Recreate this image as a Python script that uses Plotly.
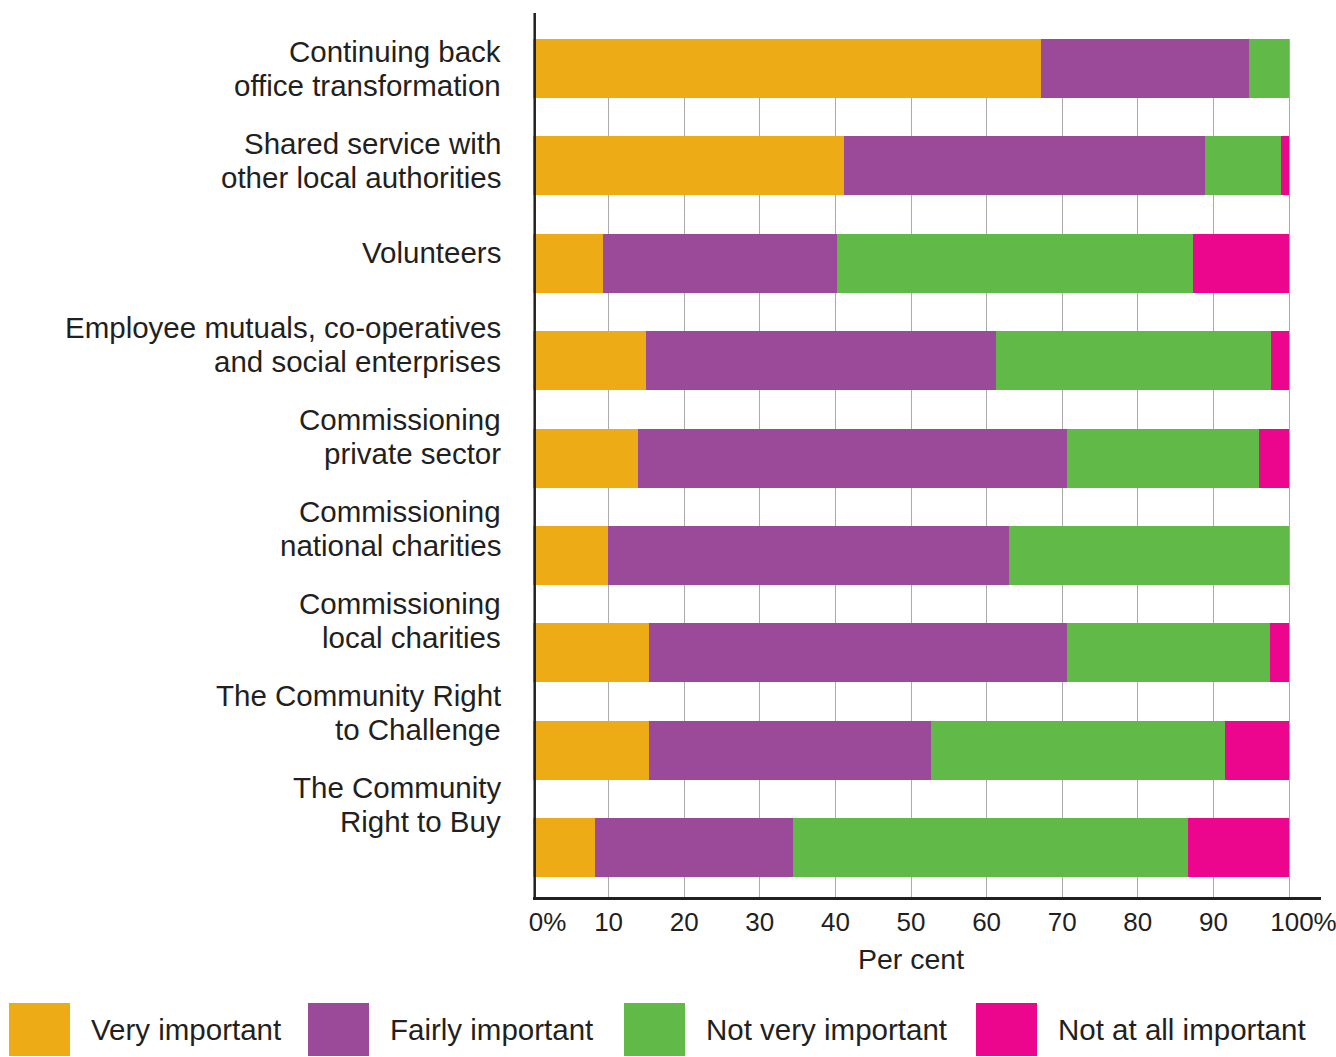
import plotly.graph_objects as go

# ---------------- data ----------------
categories = [
    "Continuing back office transformation",
    "Shared service with other local authorities",
    "Volunteers",
    "Employee mutuals, co-operatives and social enterprises",
    "Commissioning private sector",
    "Commissioning national charities",
    "Commissioning local charities",
    "The Community Right to Challenge",
    "The Community Right to Buy",
]
label_lines = [
    ["Continuing back", "office transformation"],
    ["Shared service with", "other local authorities"],
    ["Volunteers"],
    ["Employee mutuals, co-operatives", "and social enterprises"],
    ["Commissioning", "private sector"],
    ["Commissioning", "national charities"],
    ["Commissioning", "local charities"],
    ["The Community Right", "to Challenge"],
    ["The Community", "Right to Buy"],
]
series_names = ["Very important", "Fairly important", "Not very important", "Not at all important"]
very_important = [67.2, 41.1, 9.2, 14.9, 13.9, 9.9, 15.3, 15.3, 8.2]
fairly_important = [27.5, 47.8, 31.0, 46.4, 56.7, 53.0, 55.3, 37.3, 26.2]
not_very_important = [5.3, 10.0, 47.1, 36.3, 25.4, 37.1, 26.9, 38.9, 52.2]
not_at_all_important = [0.0, 1.1, 12.7, 2.4, 4.0, 0.0, 2.5, 8.5, 13.4]
tick_values = [0, 10, 20, 30, 40, 50, 60, 70, 80, 90, 100]
tick_labels = ["\u2007\u20070%", "10", "20", "30", "40", "50", "60", "70", "80", "90", "\u2007\u2007100%"]
axis_title = "Per cent"

series_values = [very_important, fairly_important, not_very_important, not_at_all_important]
colors = ["#EDAC16", "#9B4A9A", "#61BA47", "#EC068D"]

# ---------------- layout constants ----------------
FONT = "Liberation Sans, Arial, Helvetica, sans-serif"
TXT = "#231F20"
W_PX, H_PX = 1336, 1057
PL, PR, PT, PB = 533, 1321, 39, 897
PW, PH = PR - PL, PB - PT
X_MAX = 100 * (PR - PL) / (1289 - PL)


def px(x):
    return (x - PL) / PW


def py(y):
    return (PB - y) / PH


fig = go.Figure()
for name, vals, col in zip(series_names, series_values, colors):
    fig.add_trace(go.Bar(
        y=categories, x=vals, name=name, orientation="h",
        marker=dict(color=col, line=dict(width=0)),
        showlegend=False,
    ))

annotations = []
# category labels
for i, (cat, lines) in enumerate(zip(categories, label_lines)):
    base = 5.375 * i
    n = len(lines)
    for j, ln in enumerate(lines):
        shift = base + ((n - 1) / 2 - j) * 33.5
        annotations.append(dict(
            x=px(502.5), xref="paper", y=cat, yref="y", yshift=shift,
            text=ln, showarrow=False, xanchor="right", yanchor="middle",
            font=dict(family=FONT, size=29.5, color=TXT),
        ))

# axis title
annotations.append(dict(
    x=50, xref="x", y=py(959), yref="paper", text=axis_title, showarrow=False,
    xanchor="center", yanchor="middle", font=dict(family=FONT, size=28.5, color=TXT),
))

# legend
sw_left = [9, 308, 624, 976]
txt_left = [89, 388, 704, 1056]
shapes = []
for name, col, sl, tl in zip(series_names, colors, sw_left, txt_left):
    shapes.append(dict(type="rect", xref="paper", yref="paper",
                       x0=px(sl), x1=px(sl + 61), y0=py(1056), y1=py(1003),
                       fillcolor=col, line=dict(width=0)))
    annotations.append(dict(
        x=px(tl), xref="paper", y=py(1029), yref="paper", text=name, showarrow=False,
        xanchor="left", yanchor="middle", font=dict(family=FONT, size=29.5, color=TXT),
    ))

# vertical axis line (drawn over the bar starts, extends above the first bar)
shapes.append(dict(type="line", xref="paper", yref="paper", layer="above",
                   x0=px(534.7), x1=px(534.7), y0=py(899.4), y1=py(13),
                   line=dict(color=TXT, width=2.5)))

fig.update_layout(
    width=W_PX, height=H_PX,
    margin=dict(l=PL, r=W_PX - PR, t=PT, b=H_PX - PB, pad=0, autoexpand=False),
    paper_bgcolor="white", plot_bgcolor="white",
    barmode="stack", bargap=0.394,
    showlegend=False,
    annotations=annotations, shapes=shapes,
    xaxis=dict(
        range=[0, X_MAX], tickvals=tick_values, ticktext=tick_labels,
        showgrid=True, gridcolor="#ABABAB", gridwidth=1.3, zeroline=False,
        showline=True, linecolor=TXT, linewidth=2.5, ticks="",
        tickfont=dict(family=FONT, size=26, color=TXT),
        ticklabeloverflow="allow", automargin=False,
        fixedrange=True,
    ),
    yaxis=dict(
        type="category", categoryorder="array", categoryarray=categories,
        range=[8.508, -0.303], showticklabels=False, showgrid=False,
        zeroline=False, showline=False, ticks="",
        automargin=False, fixedrange=True,
    ),
)

fig.write_html("out.html")
